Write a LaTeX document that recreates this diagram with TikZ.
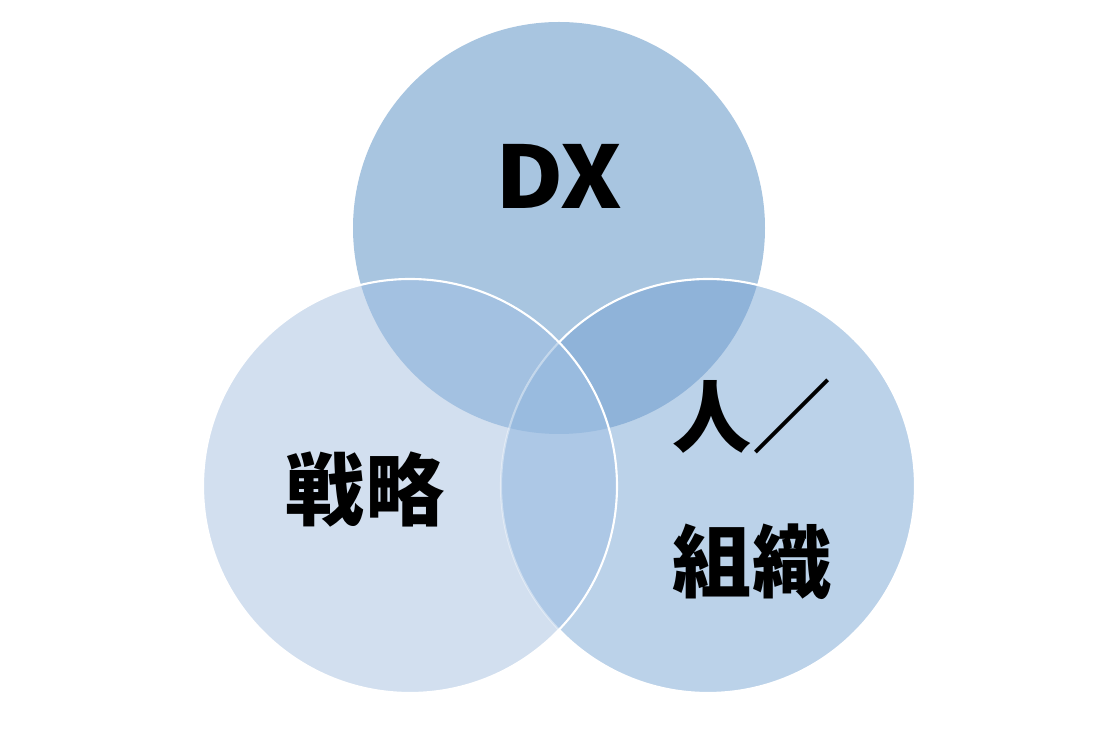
\documentclass[tikz,border=0pt]{standalone}
\usepackage{fontspec}
\newfontfamily\jp{Noto Sans CJK JP}
\definecolor{cT}{HTML}{A8C5E0}
\definecolor{cL}{HTML}{D2DFEF}
\definecolor{cR}{HTML}{BBD2E9}
\definecolor{cTL}{HTML}{A3C1E1}
\definecolor{cTR}{HTML}{8FB3D9}
\definecolor{cLR}{HTML}{ADC8E6}
\definecolor{cTLR}{HTML}{99BBDF}
\newcommand{\myfills}{%
  \fill[cT] (T) circle (4.12);
  \fill[cL] (L) circle (4.14);
  \fill[cR] (R) circle (4.14);
  \begin{scope}\clip (T) circle (4.12);
    \fill[cTL] (L) circle (4.14);
    \fill[cTR] (R) circle (4.14);
  \end{scope}
  \begin{scope}\clip (L) circle (4.14);
    \fill[cLR] (R) circle (4.14);
  \end{scope}
  \begin{scope}\clip (T) circle (4.12);\clip (L) circle (4.14);
    \fill[cTLR] (R) circle (4.14);
  \end{scope}}
\tikzset{outline/.style={draw=white,line width=1.2pt},
  lab/.style={text=black,font=\jp\bfseries}}
\begin{document}
\begin{tikzpicture}
\useasboundingbox (0,0) rectangle (22.36,-14.62);
\fill[white] (0,0) rectangle (22.36,-14.62);
\coordinate (T) at (11.18,-4.56);
\coordinate (L) at (8.2,-9.72);
\coordinate (R) at (14.16,-9.72);
\myfills
\draw[outline] (R) circle (4.14);
\begin{scope}
  \clip (L) circle (4.14);
  \myfills
  \draw[outline,draw opacity=0.4] (R) circle (4.14);
\end{scope}
\draw[outline] (L) circle (4.14);
\node[lab,font=\jp\bfseries\fontsize{49}{58}\selectfont] (dx) at (11.18,-3.52) {\scalebox{1.09}[1]{DX}};
\node[lab,font=\jp\bfseries\fontsize{45}{54}\selectfont] (sr) at (7.30,-9.80) {戦略};
\node[lab,font=\jp\bfseries\fontsize{45}{54}\selectfont] (hito) at (15.04,-8.32) {人／};
\node[lab,font=\jp\bfseries\fontsize{45}{54}\selectfont] (sk) at (15.04,-11.24) {組織};
\end{tikzpicture}
\end{document}
